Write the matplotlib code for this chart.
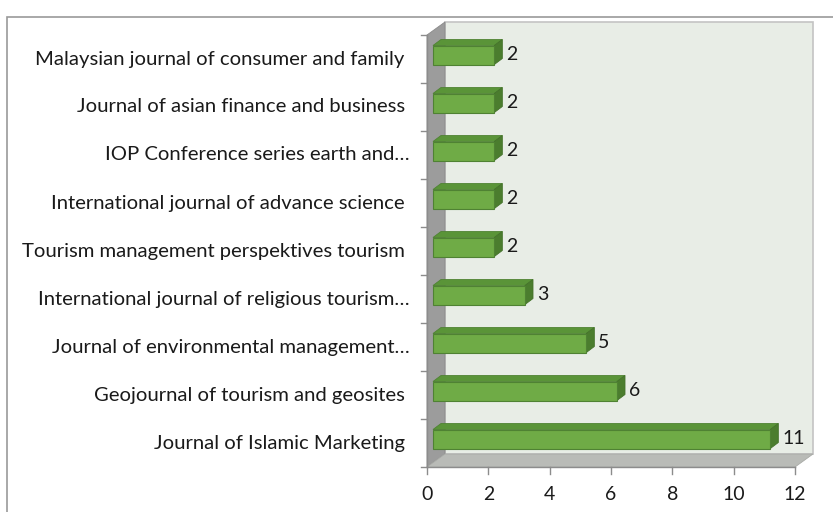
import matplotlib.pyplot as plt
from matplotlib.patches import Polygon, Rectangle

journals = [
    'Journal of Islamic Marketing ',
    'Geojournal of tourism and geosites ',
    'Journal of environmental management…',
    'International journal of religious tourism…',
    'Tourism management perspektives tourism ',
    'International journal of advance science ',
    'IOP Conference series earth and…',
    'Journal of asian finance and business ',
    'Malaysian journal of consumer and family ',
]
counts = [11, 6, 5, 3, 2, 2, 2, 2, 2]
x_ticks = [0, 2, 4, 6, 8, 10, 12]

W, H = 833, 512
fig = plt.figure(figsize=(W / 100, H / 100), dpi=100)

# outer chart border
fig.patches.append(Rectangle((7 / W, -0.1), 1.1, 1 - 17 / H + 0.1, transform=fig.transFigure,
                             fill=False, edgecolor='#9a9a9a', lw=1.2))

# front plane of the 3D box in pixels
x0, x1 = 427, 795
y_top, y_bot = 35, 467
ax = fig.add_axes([x0 / W, 1 - y_bot / H, (x1 - x0) / W, (y_bot - y_top) / H])
ax.set_xlim(0, 12)
ax.set_ylim(-0.5, len(journals) - 0.5)
ax.axis('off')

px_x = 12 / (x1 - x0)
px_y = len(journals) / (y_bot - y_top)
DX, DY = 18 * px_x, 13 * px_y          # depth of the box
lo, hi = -0.5, len(journals) - 0.5

# back wall
ax.add_patch(Polygon([(DX, lo + DY), (12 + DX, lo + DY), (12 + DX, hi + DY), (DX, hi + DY)],
                     closed=True, facecolor='#e8ede6', edgecolor='#c4c4c4', lw=1.2, clip_on=False, zorder=1))
# left wall
ax.add_patch(Polygon([(0, lo), (DX, lo + DY), (DX, hi + DY), (0, hi)],
                     closed=True, facecolor='#9c9c9c', edgecolor='#8a8a8a', lw=0.6, clip_on=False, zorder=2))
# floor
ax.add_patch(Polygon([(0, lo), (12, lo), (12 + DX, lo + DY), (DX, lo + DY)],
                     closed=True, facecolor='#b9bbb7', edgecolor='#a8aaa6', lw=0.6, clip_on=False, zorder=2))
# axis lines
ax.plot([0, 12], [lo, lo], color='#8c8c8c', lw=1, clip_on=False, zorder=3)
ax.plot([0, 0], [lo, hi], color='#8c8c8c', lw=1, clip_on=False, zorder=3)

# bars (front face + top + side)
bx, by = 6 * px_x, 4 * px_y            # bar front offset into the box
bdx, bdy = 8 * px_x, 6 * px_y          # bar depth
bh = 19 * px_y
pos = list(range(len(journals)))
ax.barh([p + by for p in pos], counts, height=bh, left=bx, color='#6fab46',
        edgecolor='#4f8233', lw=0.8, zorder=5, clip_on=False)
for p, v in zip(pos, counts):
    top = p + by + bh / 2
    bot = p + by - bh / 2
    ax.add_patch(Polygon([(bx, top), (bx + bdx, top + bdy), (bx + v + bdx, top + bdy), (bx + v, top)],
                         closed=True, facecolor='#5a9438', edgecolor='#4f8233', lw=0.6, zorder=4, clip_on=False))
    ax.add_patch(Polygon([(bx + v, bot), (bx + v + bdx, bot + bdy), (bx + v + bdx, top + bdy), (bx + v, top)],
                         closed=True, facecolor='#4b7d2e', edgecolor='#44722a', lw=0.6, zorder=4, clip_on=False))
    ax.text(bx + v + bdx + 4 * px_x, p + by, str(v), va='center', ha='left',
            fontsize=14, family='Lato', color='#1a1a1a', zorder=6)

# ticks and labels
for t in x_ticks:
    ax.plot([t, t], [lo, lo - 7 * px_y], color='#8c8c8c', lw=1, clip_on=False)
    ax.text(t, lo - 27 * px_y, str(t), ha='center', va='center', fontsize=14, family='Lato', color='#1a1a1a')
for k in range(len(journals) + 1):
    ax.plot([0, -6 * px_x], [lo + k, lo + k], color='#8c8c8c', lw=1, clip_on=False)
for p, name in zip(pos, journals):
    ax.text(-17 * px_x, p, name, ha='right', va='center', fontsize=14.6, family='Lato', color='#1a1a1a')

fig.savefig('out.png', dpi=100)
